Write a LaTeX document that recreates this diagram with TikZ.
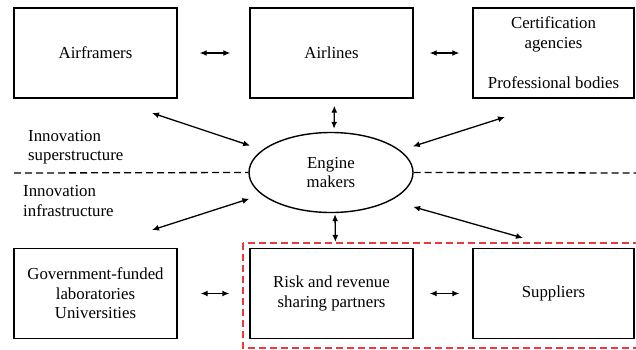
\documentclass[tikz,border=0pt]{standalone}
\usepackage{fontspec}
\setmainfont{Liberation Serif}
\usetikzlibrary{shapes.geometric}
\usetikzlibrary{arrows.meta}

\definecolor{groupred}{RGB}{232,58,58}

\begin{document}
\begin{tikzpicture}[x=1pt, y=-1pt, every node/.style={font=\fontsize{16.8}{19.5}\selectfont},
    actor/.style={draw, line width=1.4pt, minimum width=163pt, minimum height=90pt, align=center},
    link/.style={{Latex[length=7pt,width=6pt]}-{Latex[length=7pt,width=6pt]}, line width=1.3pt},
    divide/.style={dash pattern=on 7pt off 4pt, line width=1.3pt}]
        % Define the rows of the boxes
        \def\toprow{53}
        \def\botrow{293.5}

        \useasboundingbox (0,0) rectangle (636,349);

        % Draw the top row
        \node[actor] (airframers) at (95.5,\toprow) {Airframers};
        \node[actor] (airlines) at (331.5,\toprow) {Airlines};
        \node[actor, minimum width=161pt] (certification) at (553.5,\toprow) {Certification\\agencies\\[21pt]Professional bodies};

        % Draw the engine makers in the middle
        \node[ellipse, draw, line width=1.4pt, minimum width=164pt, minimum height=80pt, align=center] (engine) at (331,172.5) {Engine\\makers};

        % Draw the bottom row
        \node[actor] (government) at (95.5,\botrow) {Government-funded\\laboratories\\Universities};
        \node[actor] (partners) at (331.5,\botrow) {Risk and revenue\\sharing partners};
        \node[actor, minimum width=161pt] (suppliers) at (553.5,\botrow) {Suppliers};

        % Split between superstructure and infrastructure
        \coordinate (divleft) at (14,173);
        \coordinate (divright) at (636,173);
        \draw[divide] (divleft) -- (engine.west);
        \draw[divide] (engine.east) -- (divright);

        \node[align=left, anchor=west, inner sep=0pt] (super) at (28,147) {Innovation\\superstructure};
        \node[align=left, anchor=west, inner sep=0pt] (infra) at (23,201) {Innovation\\infrastructure};

        % Risk sharing group
        \draw[groupred, divide] (243,243) rectangle (650,348);

        % Links along the rows
        \draw[link, shorten <=22pt, shorten >=19pt] (airframers) -- (airlines);
        \draw[link, shorten <=16pt, shorten >=13pt] (airlines) -- (certification);
        \draw[link, shorten <=23pt, shorten >=20pt] (government) -- (partners);
        \draw[link, shorten <=16pt, shorten >=13pt] (partners) -- (suppliers);

        % Links to the engine makers
        \draw[link, shorten <=7pt, shorten >=3pt] ([xshift=3pt]airlines.south) -- ([xshift=3pt]engine.north);
        \draw[link, shorten <=1pt, shorten >=6pt] ([xshift=4pt]engine.south) -- ([xshift=4pt]partners.north);

        \coordinate (ulink) at (152,113);
        \coordinate (urlink) at (505,117);
        \coordinate (lllink) at (152,230);
        \coordinate (lrlink) at (523,238);
        \draw[link, shorten <=13pt] (engine) -- (ulink);
        \draw[link, shorten <=13pt] (engine) -- (urlink);
        \draw[link, shorten <=13pt] (engine) -- (lllink);
        \draw[link, shorten <=23pt] (engine.-25) -- (lrlink);
      \end{tikzpicture}
\end{document}
